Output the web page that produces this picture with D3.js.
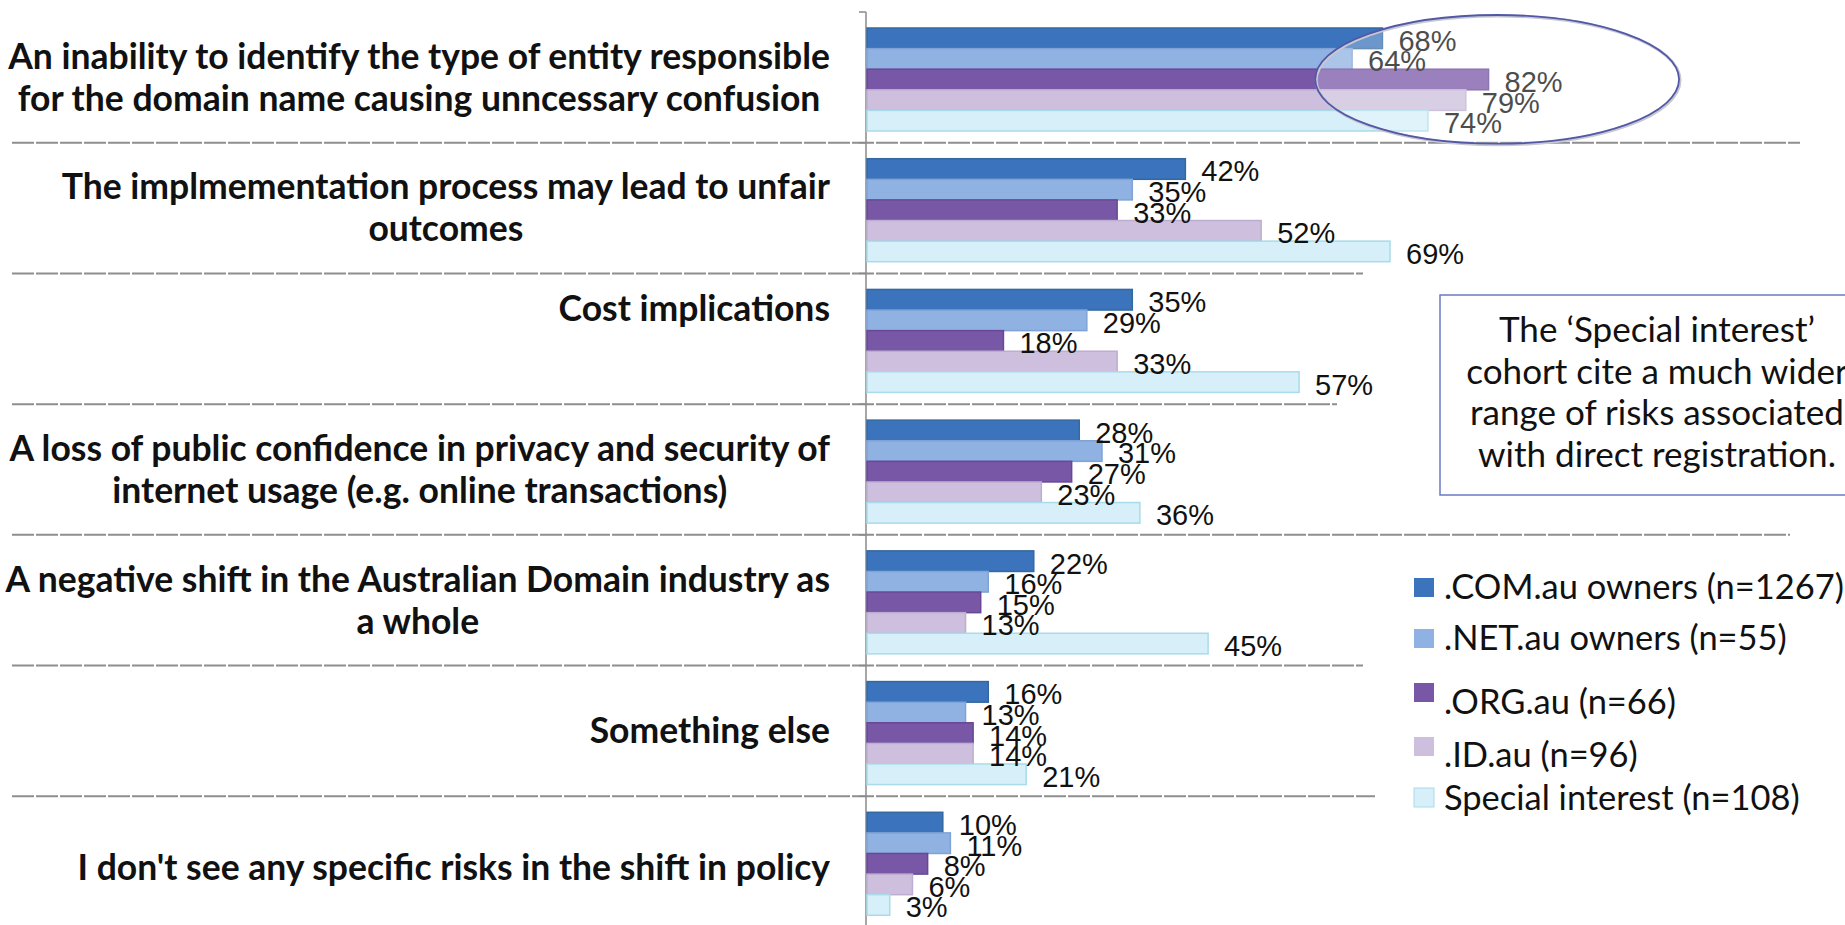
<!DOCTYPE html>
<html>
<head>
<meta charset="utf-8">
<script src="https://cdn.jsdelivr.net/npm/d3@7"></script>
<style>
  html, body { margin: 0; padding: 0; background: #fff; }
  svg { display: block; }
</style>
</head>
<body>
<div id="chart"></div>
<script>
// risks of direct registration, % of each cohort
var categories = [
  'An inability to identify the type of entity responsible\nfor the domain name causing unncessary confusion',
  'The implmementation process may lead to unfair\noutcomes',
  'Cost implications',
  'A loss of public confidence in privacy and security of\ninternet usage (e.g. online transactions)',
  'A negative shift in the Australian Domain industry as\na whole',
  'Something else',
  "I don't see any specific risks in the shift in policy"
];
var series = ['.COM.au owners (n=1267)', '.NET.au owners (n=55)', '.ORG.au (n=66)', '.ID.au (n=96)', 'Special interest (n=108)'];
var comValues = [68, 42, 35, 28, 22, 16, 10];
var netValues = [64, 35, 29, 31, 16, 13, 11];
var orgValues = [82, 33, 18, 27, 15, 14, 8];
var idValues = [79, 52, 33, 23, 13, 14, 6];
var specialValues = [74, 69, 57, 36, 45, 21, 3];
var noteLines = ['The \u2018Special interest\u2019', 'cohort cite a much wider', 'range of risks associated', 'with direct registration.'];

var allValues = [comValues, netValues, orgValues, idValues, specialValues];
var colors = ['#3b74bc', '#8fb2e2', '#7857a7', '#cdbfdd', '#d6eff8'];
var strokes = ['#34689f', '#7fa3d6', '#684896', '#bcaed0', '#a9dbea'];

var w = 1845, h = 925;
var axisX = 866;
var labelRight = 830;

var svg = d3.select('#chart').append('svg')
  .attr('width', w)
  .attr('height', h);

var x = d3.scaleLinear().domain([0, 100]).range([axisX, 1624]);
var y0 = d3.scaleBand().domain(categories).range([12, 927]);
var y1 = d3.scaleBand().domain(series).range([16, 119]);

// fit the substitute fonts to the widths seen in the picture
function fitSize(text, family, weight, target) {
  var t = svg.append('text').attr('font-family', family).attr('font-weight', weight)
    .attr('font-size', 100).text(text);
  var len = t.node().getComputedTextLength();
  t.remove();
  return 100 * target / len;
}
var catFont = 'Lato, "Open Sans", sans-serif';
var catSize = fitSize('An inability to identify the type of entity responsible', catFont, 'bold', 822);
var legSize = fitSize('.COM.au owners (n=1267)', catFont, 'normal', 400);
var noteSize = fitSize('with direct registration.', catFont, 'normal', 358);

// dividers between groups (right ends as drawn in the original)
var dividerEnds = [1800, 1363, 1337, 1790, 1363, 1375];
svg.append('g').selectAll('line')
  .data(categories.slice(1))
  .enter().append('line')
  .attr('x1', 12)
  .attr('x2', function(d, i) { return dividerEnds[i]; })
  .attr('y1', function(d) { return y0(d); })
  .attr('y2', function(d) { return y0(d); })
  .attr('stroke', '#8e8e8e')
  .attr('stroke-width', 2)
  .attr('stroke-dasharray', '22,2');

// vertical axis with small ticks at the group boundaries
svg.append('line')
  .attr('x1', axisX).attr('x2', axisX)
  .attr('y1', 12).attr('y2', h)
  .attr('stroke', '#8a8a8a').attr('stroke-width', 1.5);
svg.append('g').selectAll('line')
  .data(categories)
  .enter().append('line')
  .attr('x1', axisX - 7).attr('x2', axisX)
  .attr('y1', function(d) { return y0(d); })
  .attr('y2', function(d) { return y0(d); })
  .attr('stroke', '#8a8a8a').attr('stroke-width', 1.5);

// bars
var groups = svg.append('g').selectAll('g')
  .data(categories)
  .enter().append('g')
  .attr('transform', function(d) { return 'translate(0,' + y0(d) + ')'; });

function rows(d, ci) {
  return series.map(function(s, si) { return { s: s, si: si, v: allValues[si][ci] }; });
}

groups.selectAll('rect')
  .data(rows)
  .enter().append('rect')
  .attr('x', x(0) + 1)
  .attr('y', function(d) { return y1(d.s); })
  .attr('width', function(d) { return x(d.v) - x(0); })
  .attr('height', y1.bandwidth())
  .attr('fill', function(d) { return colors[d.si]; })
  .attr('stroke', function(d) { return strokes[d.si]; })
  .attr('stroke-width', 1.5);

groups.selectAll('text.val')
  .data(rows)
  .enter().append('text')
  .attr('class', 'val')
  .attr('x', function(d) { return x(d.v) + 17; })
  .attr('y', function(d) { return y1(d.s) + y1.bandwidth() / 2 + 2; })
  .attr('dy', '0.36em')
  .attr('font-family', '"Liberation Sans", Arial, sans-serif')
  .attr('font-size', 29)
  .attr('fill', '#111')
  .text(function(d) { return d.v + '%'; });

// category labels: block right-aligned, lines centred in the block
var labelNudge = [0, 0, -30, 0, 0, 0, 6];
categories.forEach(function(c, ci) {
  var lines = c.split('\n');
  var g = svg.append('g');
  var texts = lines.map(function(line, li) {
    return g.append('text')
      .attr('font-family', catFont)
      .attr('font-weight', 'bold')
      .attr('font-size', catSize)
      .attr('fill', '#111')
      .attr('text-anchor', 'middle')
      .attr('dy', '0.35em')
      .attr('y', y0(c) + y0.bandwidth() / 2 + labelNudge[ci] + (li - (lines.length - 1) / 2) * 42)
      .text(line);
  });
  var maxW = d3.max(texts, function(t) { return t.node().getComputedTextLength(); });
  texts.forEach(function(t) { t.attr('x', labelRight - maxW / 2); });
});

// highlight ellipse round the first group
var g0 = categories[0];
svg.append('ellipse')
  .attr('cx', (x(59) + x(107)) / 2 + 2)
  .attr('cy', y0(g0) + y0.bandwidth() / 2 + 2)
  .attr('rx', (x(107) - x(59)) / 2)
  .attr('ry', y0.bandwidth() / 2 - 1)
  .attr('fill', '#fff')
  .attr('fill-opacity', 0.25)
  .attr('stroke', '#c8c8d0')
  .attr('stroke-width', 3)
  .attr('transform', 'translate(1,1)');
svg.append('ellipse')
  .attr('cx', (x(59) + x(107)) / 2 + 2)
  .attr('cy', y0(g0) + y0.bandwidth() / 2 + 2)
  .attr('rx', (x(107) - x(59)) / 2)
  .attr('ry', y0.bandwidth() / 2 - 1)
  .attr('fill', 'none')
  .attr('stroke', '#5258a8')
  .attr('stroke-width', 1.8);

// note box
svg.append('rect')
  .attr('x', 1440).attr('y', 295)
  .attr('width', 420).attr('height', 200)
  .attr('fill', '#fff')
  .attr('stroke', '#6b78c4')
  .attr('stroke-width', 1.5);
svg.append('g').selectAll('text')
  .data(noteLines)
  .enter().append('text')
  .attr('x', 1657)
  .attr('y', function(d, i) { return 342 + i * 41.5; })
  .attr('text-anchor', 'middle')
  .attr('font-family', catFont)
  .attr('font-size', noteSize)
  .attr('fill', '#111')
  .text(function(d) { return d; });

// legend
var legendY = [587, 638, 702, 755, 798];
var swatchShift = [0, 0, -10, -9, -1];
var legend = svg.append('g').selectAll('g')
  .data(series)
  .enter().append('g')
  .attr('transform', function(d, i) { return 'translate(1414,' + legendY[i] + ')'; });
legend.append('rect')
  .attr('x', 0)
  .attr('y', function(d, i) { return swatchShift[i] - 9; })
  .attr('width', 20).attr('height', 19)
  .attr('fill', function(d, i) { return colors[i]; })
  .attr('stroke', function(d, i) { return i === 4 ? strokes[i] : 'none'; });
legend.append('text')
  .attr('x', 30)
  .attr('dy', '0.35em')
  .attr('font-family', catFont)
  .attr('font-size', legSize)
  .attr('fill', '#111')
  .text(function(d) { return d; });
</script>
</body>
</html>
